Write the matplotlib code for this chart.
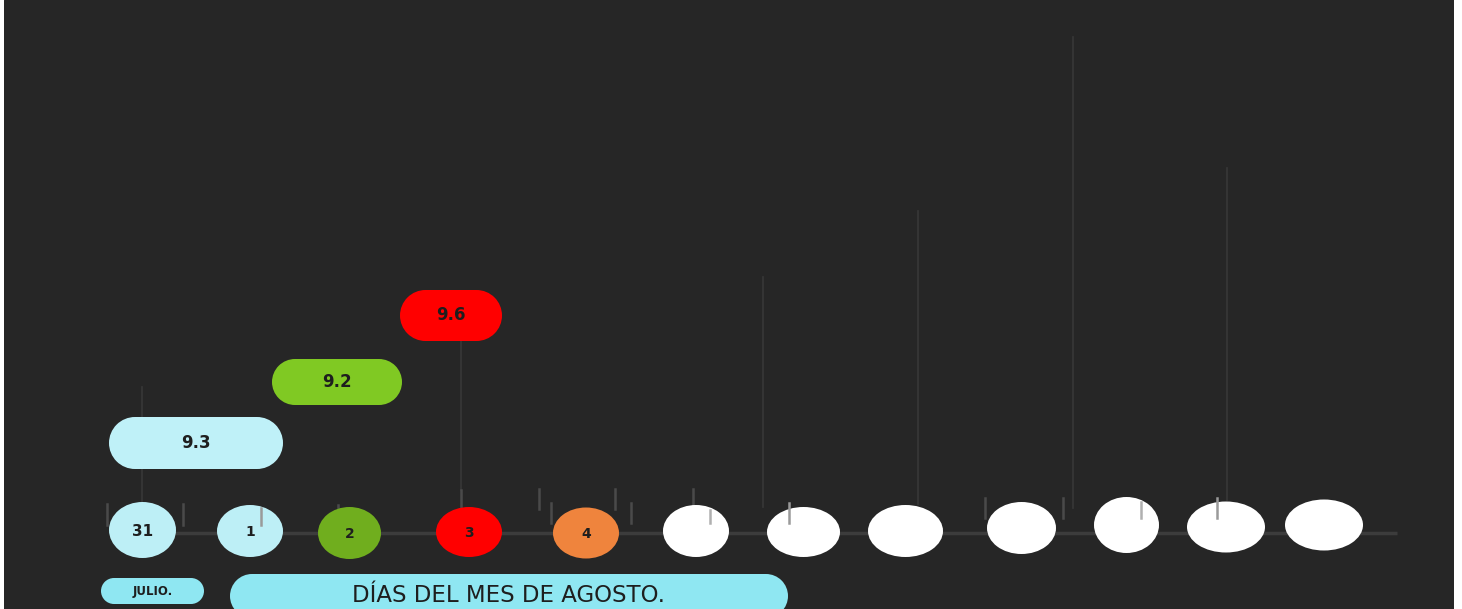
import matplotlib
matplotlib.use("Agg")
from matplotlib import pyplot as plt
from matplotlib.patches import Ellipse, Rectangle

# data
days = ["31", "1", "2", "3", "4", "", "", "", "", "", "", ""]
values = ["9.3", "9.2", "9.6"]
months = ["JULIO.", "DÍAS DEL MES DE AGOSTO."]

# layout (pixel units of a 1462x609 canvas)
day_x = [142.5, 250, 349.5, 469, 586, 696, 803.5, 905.5, 1021.5, 1126.5, 1226, 1324]
day_w = [67, 66, 63, 66, 66, 66, 73, 75, 69, 65, 78, 78]
day_h = [56, 52, 52, 50, 51, 52, 50, 52, 52, 56, 51, 51]
day_y = [530, 531, 533, 532, 533, 531, 532, 531, 528, 525, 527, 525]
day_colors = ["#bdeff6", "#bdeff6", "#70ae1e", "#ff0000", "#ef843d",
              "white", "white", "white", "white", "white", "white", "white"]
day_font = [11, 10, 10, 10, 10, 10, 10, 10, 10, 10, 10, 10]

# value pills: (left, right, top, bottom)
pill_box = [(109, 283, 417, 469), (272, 402, 359, 405), (400, 502, 290, 341)]
pill_colors = ["#bff1f8", "#80c923", "#ff0000"]

month_box = [(101, 204, 578, 604), (230, 788, 574, 618)]
month_font = [8.5, 16.5]

# faint stems (x, top, bottom)
stems = [(142, 387, 503), (461, 340, 490), (763, 277, 507),
         (918, 211, 504), (1073, 37, 508), (1227, 168, 500)]
# short tick marks (x, top, bottom, color)
ticks = [(107, 504, 525, "#4a4a4a"), (183, 504, 525, "#4a4a4a"),
         (261, 508, 525, "#9a9a9a"), (338, 505, 525, "#4a4a4a"),
         (461, 490, 509, "#4a4a4a"), (539, 489, 509, "#4a4a4a"),
         (551, 503, 523, "#4a4a4a"), (615, 489, 509, "#4a4a4a"),
         (631, 503, 523, "#4a4a4a"), (693, 489, 505, "#4a4a4a"),
         (710, 510, 523, "#b0b0b0"), (789, 503, 523, "#9a9a9a"),
         (985, 498, 518, "#4a4a4a"), (1063, 498, 518, "#4a4a4a"),
         (1141, 502, 518, "#b0b0b0"), (1217, 498, 518, "#9a9a9a")]

fig = plt.figure(figsize=(14.62, 6.09), dpi=100, facecolor="white")
ax = fig.add_axes([4 / 1462, 0, 1450 / 1462, 1])
ax.set_facecolor("#262626")
ax.set_xlim(4, 1454)
ax.set_ylim(609, 0)
ax.axis("off")
ax.add_patch(Rectangle((4, 0), 1450, 609, color="#262626", zorder=0))

# stems behind everything
for x, top, bottom in stems:
    ax.plot([x, x], [top, bottom], color="#383838", lw=1.2, zorder=1)

# timeline
ax.plot([day_x[0], 1397], [533, 533], color="#3c3c3c", lw=2.5, zorder=1,
        solid_capstyle="butt")

for x, top, bottom, c in ticks:
    if c == "#4a4a4a":
        ax.plot([x, x], [top, bottom], color=c, lw=1.8, zorder=1)

# day ellipses
for i, d in enumerate(days):
    ax.add_patch(Ellipse((day_x[i], day_y[i]), day_w[i], day_h[i],
                         facecolor=day_colors[i], edgecolor="none", zorder=2))
    if d:
        ax.text(day_x[i], day_y[i] + 1, d, ha="center", va="center",
                fontsize=day_font[i], fontweight="bold", color="#1e1e1e", zorder=4)

for x, top, bottom, c in ticks:
    if c != "#4a4a4a":
        ax.plot([x, x], [top, bottom], color=c, lw=1.8, zorder=3)


def pill(box, color, z=3):
    # stadium shape: rectangle with half-round ends
    left, right, top, bottom = box
    h = bottom - top
    r = h / 2
    ax.add_patch(Rectangle((left + r, top), right - left - 2 * r, h,
                           facecolor=color, edgecolor="none", zorder=z))
    for cx in (left + r, right - r):
        ax.add_patch(Ellipse((cx, top + r), h, h, facecolor=color,
                             edgecolor="none", zorder=z))


for i, v in enumerate(values):
    pill(pill_box[i], pill_colors[i])
    left, right, top, bottom = pill_box[i]
    ax.text((left + right) / 2, (top + bottom) / 2, v, ha="center", va="center",
            fontsize=12, fontweight="bold", color="#1e1e1e", zorder=4)

for i, m in enumerate(months):
    pill(month_box[i], "#8fe7f2")
    left, right, top, bottom = month_box[i]
    ax.text((left + right) / 2, (top + bottom) / 2 + (0 if i == 0 else -1), m,
            ha="center", va="center", fontsize=month_font[i],
            fontweight="bold" if i == 0 else "normal", color="#1e1e1e", zorder=4)

fig.savefig("out.png", dpi=100, facecolor="white")
